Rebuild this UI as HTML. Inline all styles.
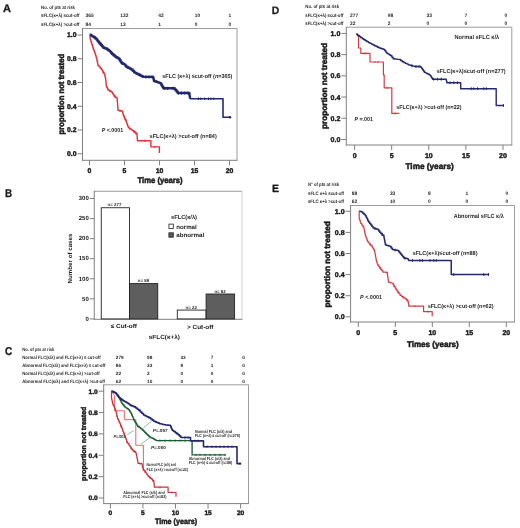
<!DOCTYPE html>
<html><head><meta charset="utf-8"><style>
html,body{margin:0;padding:0;background:#fff;}
svg{display:block;will-change:transform;text-rendering:geometricPrecision;font-family:"Liberation Sans",sans-serif;}
</style></head><body>
<svg width="520" height="528" viewBox="0 0 520 528">
<rect x="0" y="0" width="520" height="528" fill="#fff"/>
<text x="3.10" y="12.28" textLength="8.00" lengthAdjust="spacingAndGlyphs" style="font-size:10.8px;font-weight:bold;fill:#1a1a1a;stroke:#1a1a1a;stroke-width:0.3px;stroke-linejoin:round">A</text>
<text x="41.00" y="9.21" textLength="34.00" lengthAdjust="spacingAndGlyphs" style="font-size:4.9px;font-weight:bold;fill:#2a2a2a">No. of pts at risk</text>
<text x="41.00" y="17.21" textLength="38.50" lengthAdjust="spacingAndGlyphs" style="font-size:4.9px;font-weight:bold;fill:#2a2a2a">sFLC(κ+λ) ≤cut-off</text>
<text x="41.00" y="25.91" textLength="38.50" lengthAdjust="spacingAndGlyphs" style="font-size:4.9px;font-weight:bold;fill:#2a2a2a">sFLC(κ+λ) &gt;cut-off</text>
<text x="85.60" y="17.21" text-anchor="start" style="font-size:4.9px;font-weight:bold;fill:#2a2a2a">365</text>
<text x="120.20" y="17.21" text-anchor="start" style="font-size:4.9px;font-weight:bold;fill:#2a2a2a">132</text>
<text x="158.30" y="17.21" text-anchor="start" style="font-size:4.9px;font-weight:bold;fill:#2a2a2a">42</text>
<text x="194.80" y="17.21" text-anchor="start" style="font-size:4.9px;font-weight:bold;fill:#2a2a2a">10</text>
<text x="228.50" y="17.21" text-anchor="start" style="font-size:4.9px;font-weight:bold;fill:#2a2a2a">1</text>
<text x="85.60" y="25.91" text-anchor="start" style="font-size:4.9px;font-weight:bold;fill:#2a2a2a">84</text>
<text x="120.20" y="25.91" text-anchor="start" style="font-size:4.9px;font-weight:bold;fill:#2a2a2a">13</text>
<text x="158.30" y="25.91" text-anchor="start" style="font-size:4.9px;font-weight:bold;fill:#2a2a2a">1</text>
<text x="194.80" y="25.91" text-anchor="start" style="font-size:4.9px;font-weight:bold;fill:#2a2a2a">0</text>
<text x="228.50" y="25.91" text-anchor="start" style="font-size:4.9px;font-weight:bold;fill:#2a2a2a">0</text>
<line x1="82.50" y1="28.50" x2="237.00" y2="28.50" stroke="#9c9c9c" stroke-width="1"/>
<line x1="237.00" y1="28.50" x2="237.00" y2="160.30" stroke="#9c9c9c" stroke-width="1"/>
<line x1="82.00" y1="160.30" x2="237.50" y2="160.30" stroke="#808080" stroke-width="1"/>
<line x1="82.50" y1="28.00" x2="82.50" y2="160.80" stroke="#808080" stroke-width="1"/>
<line x1="77.50" y1="153.75" x2="82.50" y2="153.75" stroke="#808080" stroke-width="1"/>
<text x="76.50" y="156.20" text-anchor="end" style="font-size:6.8px;font-weight:bold;fill:#1a1a1a;stroke:#1a1a1a;stroke-width:0.41px;stroke-linejoin:round">0.0</text>
<line x1="77.50" y1="130.00" x2="82.50" y2="130.00" stroke="#808080" stroke-width="1"/>
<text x="76.50" y="132.45" text-anchor="end" style="font-size:6.8px;font-weight:bold;fill:#1a1a1a;stroke:#1a1a1a;stroke-width:0.41px;stroke-linejoin:round">0.2</text>
<line x1="77.50" y1="106.25" x2="82.50" y2="106.25" stroke="#808080" stroke-width="1"/>
<text x="76.50" y="108.70" text-anchor="end" style="font-size:6.8px;font-weight:bold;fill:#1a1a1a;stroke:#1a1a1a;stroke-width:0.41px;stroke-linejoin:round">0.4</text>
<line x1="77.50" y1="82.50" x2="82.50" y2="82.50" stroke="#808080" stroke-width="1"/>
<text x="76.50" y="84.95" text-anchor="end" style="font-size:6.8px;font-weight:bold;fill:#1a1a1a;stroke:#1a1a1a;stroke-width:0.41px;stroke-linejoin:round">0.6</text>
<line x1="77.50" y1="58.75" x2="82.50" y2="58.75" stroke="#808080" stroke-width="1"/>
<text x="76.50" y="61.20" text-anchor="end" style="font-size:6.8px;font-weight:bold;fill:#1a1a1a;stroke:#1a1a1a;stroke-width:0.41px;stroke-linejoin:round">0.8</text>
<line x1="77.50" y1="35.00" x2="82.50" y2="35.00" stroke="#808080" stroke-width="1"/>
<text x="76.50" y="37.45" text-anchor="end" style="font-size:6.8px;font-weight:bold;fill:#1a1a1a;stroke:#1a1a1a;stroke-width:0.41px;stroke-linejoin:round">1.0</text>
<line x1="89.50" y1="160.30" x2="89.50" y2="165.30" stroke="#808080" stroke-width="1"/>
<text x="89.50" y="172.55" text-anchor="middle" style="font-size:6.8px;font-weight:bold;fill:#1a1a1a;stroke:#1a1a1a;stroke-width:0.41px;stroke-linejoin:round">0</text>
<line x1="124.50" y1="160.30" x2="124.50" y2="165.30" stroke="#808080" stroke-width="1"/>
<text x="124.50" y="172.55" text-anchor="middle" style="font-size:6.8px;font-weight:bold;fill:#1a1a1a;stroke:#1a1a1a;stroke-width:0.41px;stroke-linejoin:round">5</text>
<line x1="159.50" y1="160.30" x2="159.50" y2="165.30" stroke="#808080" stroke-width="1"/>
<text x="159.50" y="172.55" text-anchor="middle" style="font-size:6.8px;font-weight:bold;fill:#1a1a1a;stroke:#1a1a1a;stroke-width:0.41px;stroke-linejoin:round">10</text>
<line x1="194.50" y1="160.30" x2="194.50" y2="165.30" stroke="#808080" stroke-width="1"/>
<text x="194.50" y="172.55" text-anchor="middle" style="font-size:6.8px;font-weight:bold;fill:#1a1a1a;stroke:#1a1a1a;stroke-width:0.41px;stroke-linejoin:round">15</text>
<line x1="229.50" y1="160.30" x2="229.50" y2="165.30" stroke="#808080" stroke-width="1"/>
<text x="229.50" y="172.55" text-anchor="middle" style="font-size:6.8px;font-weight:bold;fill:#1a1a1a;stroke:#1a1a1a;stroke-width:0.41px;stroke-linejoin:round">20</text>
<text transform="translate(64.34,94.15) rotate(-90)" x="0" y="0" text-anchor="middle" textLength="80.50" lengthAdjust="spacingAndGlyphs" style="font-size:8.3px;font-weight:bold;fill:#1a1a1a;stroke:#1a1a1a;stroke-width:0.50px;stroke-linejoin:round">proportion not treated</text>
<text x="137.50" y="182.67" textLength="45.10" lengthAdjust="spacingAndGlyphs" style="font-size:8.2px;font-weight:bold;fill:#1a1a1a;stroke:#1a1a1a;stroke-width:0.49px;stroke-linejoin:round">Time (years)</text>
<polyline points="89.80,34.80 89.92,34.80 89.92,36.00 90.05,36.00 90.05,37.20 90.17,37.20 90.17,38.40 90.30,38.40 90.30,39.60 90.78,39.60 90.78,41.14 91.26,41.14 91.26,42.68 91.74,42.68 91.74,44.22 92.22,44.22 92.22,45.76 92.70,45.76 92.70,47.30 93.18,47.30 93.18,48.64 93.66,48.64 93.66,49.98 94.14,49.98 94.14,51.32 94.62,51.32 94.62,52.66 95.10,52.66 95.10,54.00 95.60,54.00 95.60,55.60 96.10,55.60 96.10,57.20 96.60,57.20 96.60,58.80 96.88,58.80 96.88,60.16 97.16,60.16 97.16,61.52 97.44,61.52 97.44,62.88 97.72,62.88 97.72,64.24 98.00,64.24 98.00,65.60 99.13,65.60 99.13,66.87 100.27,66.87 100.27,68.13 101.40,68.13 101.40,69.40 102.24,69.40 102.24,70.85 103.08,70.85 103.08,72.30 103.91,72.30 103.91,73.75 104.75,73.75 104.75,75.20 105.07,75.20 105.07,76.80 105.38,76.80 105.38,78.40 105.70,78.40 105.70,80.00 105.85,80.00 105.85,81.55 106.00,81.55 106.00,83.10 106.15,83.10 106.15,84.65 106.30,84.65 106.30,86.20 106.87,86.20 106.87,87.47 107.43,87.47 107.43,88.73 108.00,88.73 108.00,90.00 109.13,90.00 109.13,90.63 110.27,90.63 110.27,91.27 111.40,91.27 111.40,91.90 112.33,91.90 112.33,93.33 113.27,93.33 113.27,94.77 114.20,94.77 114.20,96.20 115.65,96.20 115.65,97.60 117.10,97.60 117.10,99.00 117.21,99.00 117.21,100.42 117.32,100.42 117.32,101.85 117.44,101.85 117.44,103.28 117.55,103.28 117.55,104.70 117.66,104.70 117.66,106.12 117.78,106.12 117.78,107.55 117.89,107.55 117.89,108.98 118.00,108.98 118.00,110.40 119.43,110.40 119.43,110.70 120.87,110.70 120.87,111.00 122.30,111.00 122.30,111.30 122.65,111.30 122.65,112.60 123.00,112.60 123.00,113.90 123.35,113.90 123.35,115.20 123.70,115.20 123.70,116.50 124.47,116.50 124.47,118.10 125.23,118.10 125.23,119.70 126.00,119.70 126.00,121.30 126.48,121.30 126.48,122.62 126.96,122.62 126.96,123.94 127.44,123.94 127.44,125.26 127.92,125.26 127.92,126.58 128.40,126.58 128.40,127.90 129.83,127.90 129.83,128.87 131.27,128.87 131.27,129.83 132.70,129.83 132.70,130.80 134.13,130.80 134.13,132.03 135.57,132.03 135.57,133.27 137.00,133.27 137.00,134.50 137.10,134.50 137.10,136.07 137.20,136.07 137.20,137.65 137.30,137.65 137.30,139.23 137.40,139.23 137.40,140.80 150.90,140.80 150.90,146.90 159.40,146.90 159.40,153.00" fill="none" stroke="#d8353d" stroke-width="1.4" stroke-linejoin="round" stroke-linecap="butt" />
<polyline points="89.80,34.80 91.10,34.80 91.10,35.60 92.40,35.60 92.40,36.40 93.70,36.40 93.70,37.20 95.15,37.20 95.15,38.40 96.60,38.40 96.60,39.60 97.57,39.60 97.57,40.90 98.53,40.90 98.53,42.20 99.50,42.20 99.50,43.50 100.77,43.50 100.77,44.93 102.03,44.93 102.03,46.37 103.30,46.37 103.30,47.80 104.75,47.80 104.75,48.27 106.20,48.27 106.20,48.75 107.47,48.75 107.47,49.70 108.73,49.70 108.73,50.65 110.00,50.65 110.00,51.60 111.00,51.60 111.00,52.80 112.00,52.80 112.00,54.00 113.40,54.00 113.40,55.20 114.80,55.20 114.80,56.40 116.10,56.40 116.10,57.20 117.40,57.20 117.40,58.00 118.70,58.00 118.70,58.80 119.67,58.80 119.67,60.27 120.63,60.27 120.63,61.73 121.60,61.73 121.60,63.20 123.05,63.20 123.05,63.90 124.50,63.90 124.50,64.60 125.45,64.60 125.45,65.80 126.40,65.80 126.40,67.00 128.00,67.00 128.00,67.80 129.60,67.80 129.60,68.60 131.20,68.60 131.20,69.40 132.65,69.40 132.65,70.85 134.10,70.85 134.10,72.30 135.17,72.30 135.17,72.87 136.23,72.87 136.23,73.43 137.30,73.43 137.30,74.00 138.73,74.00 138.73,74.72 140.15,74.72 140.15,75.45 141.57,75.45 141.57,76.18 143.00,76.18 143.00,76.90 152.90,76.90 153.27,76.90 153.27,78.27 153.63,78.27 153.63,79.63 154.00,79.63 154.00,81.00 155.28,81.00 155.28,81.46 156.56,81.46 156.56,81.92 157.84,81.92 157.84,82.38 159.12,82.38 159.12,82.84 160.40,82.84 160.40,83.30 161.12,83.30 161.12,84.55 161.85,84.55 161.85,85.80 162.58,85.80 162.58,87.05 163.30,87.05 163.30,88.30 174.00,88.30 174.70,88.30 174.70,89.15 175.40,89.15 175.40,90.00 176.55,90.00 176.55,91.50 177.70,91.50 177.70,93.00 189.20,93.00 189.40,93.00 189.40,94.45 189.60,94.45 189.60,95.90 189.80,95.90 189.80,97.35 190.00,97.35 190.00,98.80" fill="none" stroke="#23296b" stroke-width="2.4" stroke-linejoin="round" stroke-linecap="butt" />
<polyline points="190.00,98.80 223.00,98.80 223.00,117.20 230.00,117.20" fill="none" stroke="#23296b" stroke-width="1.6" stroke-linejoin="round" stroke-linecap="butt" />
<circle cx="230" cy="117.2" r="1.3" fill="#23296b"/>
<line x1="146.00" y1="75.30" x2="146.00" y2="78.50" stroke="#23296b" stroke-width="1.1"/>
<line x1="149.00" y1="75.30" x2="149.00" y2="78.50" stroke="#23296b" stroke-width="1.1"/>
<line x1="152.00" y1="75.30" x2="152.00" y2="78.50" stroke="#23296b" stroke-width="1.1"/>
<line x1="164.60" y1="86.70" x2="164.60" y2="89.90" stroke="#23296b" stroke-width="1.1"/>
<line x1="167.70" y1="86.70" x2="167.70" y2="89.90" stroke="#23296b" stroke-width="1.1"/>
<line x1="173.00" y1="86.70" x2="173.00" y2="89.90" stroke="#23296b" stroke-width="1.1"/>
<line x1="178.50" y1="91.40" x2="178.50" y2="94.60" stroke="#23296b" stroke-width="1.1"/>
<line x1="181.50" y1="91.40" x2="181.50" y2="94.60" stroke="#23296b" stroke-width="1.1"/>
<line x1="184.60" y1="91.40" x2="184.60" y2="94.60" stroke="#23296b" stroke-width="1.1"/>
<line x1="187.70" y1="91.40" x2="187.70" y2="94.60" stroke="#23296b" stroke-width="1.1"/>
<line x1="198.50" y1="97.50" x2="198.50" y2="100.10" stroke="#23296b" stroke-width="1.0"/>
<line x1="200.80" y1="97.50" x2="200.80" y2="100.10" stroke="#23296b" stroke-width="1.0"/>
<line x1="204.60" y1="97.50" x2="204.60" y2="100.10" stroke="#23296b" stroke-width="1.0"/>
<line x1="208.50" y1="97.50" x2="208.50" y2="100.10" stroke="#23296b" stroke-width="1.0"/>
<line x1="210.80" y1="97.50" x2="210.80" y2="100.10" stroke="#23296b" stroke-width="1.0"/>
<line x1="213.80" y1="97.50" x2="213.80" y2="100.10" stroke="#23296b" stroke-width="1.0"/>
<line x1="103.00" y1="70.87" x2="103.00" y2="73.47" stroke="#d8353d" stroke-width="0.9"/>
<line x1="110.00" y1="89.82" x2="110.00" y2="92.42" stroke="#d8353d" stroke-width="0.9"/>
<line x1="115.00" y1="95.67" x2="115.00" y2="98.27" stroke="#d8353d" stroke-width="0.9"/>
<line x1="120.00" y1="109.52" x2="120.00" y2="112.12" stroke="#d8353d" stroke-width="0.9"/>
<line x1="125.00" y1="117.91" x2="125.00" y2="120.51" stroke="#d8353d" stroke-width="0.9"/>
<line x1="130.00" y1="127.68" x2="130.00" y2="130.28" stroke="#d8353d" stroke-width="0.9"/>
<line x1="134.00" y1="130.62" x2="134.00" y2="133.22" stroke="#d8353d" stroke-width="0.9"/>
<line x1="136.00" y1="132.34" x2="136.00" y2="134.94" stroke="#d8353d" stroke-width="0.9"/>
<line x1="145.00" y1="139.50" x2="145.00" y2="142.10" stroke="#d8353d" stroke-width="0.9"/>
<line x1="155.00" y1="145.60" x2="155.00" y2="148.20" stroke="#d8353d" stroke-width="0.9"/>
<text x="162.30" y="78.20" textLength="70.00" lengthAdjust="spacingAndGlyphs" style="font-size:5.7px;font-weight:bold;fill:#2a2a2a">sFLC (κ+λ) ≤cut-off (<tspan font-style='italic'>n</tspan>=365)</text>
<text x="101.70" y="132.00" textLength="21.50" lengthAdjust="spacingAndGlyphs" style="font-size:5.7px;font-weight:bold;fill:#2a2a2a"><tspan font-style='italic'>P</tspan> &lt;.0001</text>
<text x="149.60" y="138.00" textLength="67.20" lengthAdjust="spacingAndGlyphs" style="font-size:5.7px;font-weight:bold;fill:#2a2a2a">sFLC(κ+λ) &gt;cut-off (n=84)</text>
<text x="5.10" y="197.39" textLength="7.10" lengthAdjust="spacingAndGlyphs" style="font-size:11.4px;font-weight:bold;fill:#1a1a1a;stroke:#1a1a1a;stroke-width:0.3px;stroke-linejoin:round">B</text>
<line x1="94.25" y1="191.25" x2="242.00" y2="191.25" stroke="#9a9a9a" stroke-width="1"/>
<line x1="242.00" y1="191.25" x2="242.00" y2="319.30" stroke="#d4d4d4" stroke-width="1"/>
<line x1="93.75" y1="319.30" x2="242.50" y2="319.30" stroke="#808080" stroke-width="1"/>
<line x1="94.25" y1="190.75" x2="94.25" y2="319.80" stroke="#808080" stroke-width="1"/>
<line x1="89.75" y1="318.90" x2="94.25" y2="318.90" stroke="#808080" stroke-width="1"/>
<text x="88.75" y="320.66" text-anchor="end" style="font-size:5.99px;font-weight:bold;fill:#1a1a1a">0</text>
<line x1="89.75" y1="298.83" x2="94.25" y2="298.83" stroke="#808080" stroke-width="1"/>
<text x="88.75" y="300.59" text-anchor="end" style="font-size:5.99px;font-weight:bold;fill:#1a1a1a">50</text>
<line x1="89.75" y1="278.77" x2="94.25" y2="278.77" stroke="#808080" stroke-width="1"/>
<text x="88.75" y="280.53" text-anchor="end" style="font-size:5.99px;font-weight:bold;fill:#1a1a1a">100</text>
<line x1="89.75" y1="258.70" x2="94.25" y2="258.70" stroke="#808080" stroke-width="1"/>
<text x="88.75" y="260.46" text-anchor="end" style="font-size:5.99px;font-weight:bold;fill:#1a1a1a">150</text>
<line x1="89.75" y1="238.64" x2="94.25" y2="238.64" stroke="#808080" stroke-width="1"/>
<text x="88.75" y="240.40" text-anchor="end" style="font-size:5.99px;font-weight:bold;fill:#1a1a1a">200</text>
<line x1="89.75" y1="218.57" x2="94.25" y2="218.57" stroke="#808080" stroke-width="1"/>
<text x="88.75" y="220.33" text-anchor="end" style="font-size:5.99px;font-weight:bold;fill:#1a1a1a">250</text>
<line x1="89.75" y1="198.51" x2="94.25" y2="198.51" stroke="#808080" stroke-width="1"/>
<text x="88.75" y="200.27" text-anchor="end" style="font-size:5.99px;font-weight:bold;fill:#1a1a1a">300</text>
<text transform="translate(71.92,258.50) rotate(-90)" x="0" y="0" text-anchor="middle" textLength="49.80" lengthAdjust="spacingAndGlyphs" style="font-size:5.99px;font-weight:bold;fill:#1a1a1a">Number of cases</text>
<rect x="101.25" y="207.74" width="28.25" height="111.16" fill="#fff" stroke="#222" stroke-width="0.9"/>
<rect x="129.50" y="283.59" width="28.25" height="35.31" fill="#5e5e5e" stroke="#222" stroke-width="0.9"/>
<rect x="177.30" y="310.07" width="28.80" height="8.83" fill="#fff" stroke="#222" stroke-width="0.9"/>
<rect x="206.10" y="294.02" width="28.50" height="24.88" fill="#5e5e5e" stroke="#222" stroke-width="0.9"/>
<text x="114.50" y="205.58" text-anchor="middle" style="font-size:4.4px;font-weight:bold;fill:#2a2a2a">n= 277</text>
<text x="143.40" y="281.98" text-anchor="middle" style="font-size:4.4px;font-weight:bold;fill:#2a2a2a">n= 88</text>
<text x="191.20" y="308.98" text-anchor="middle" style="font-size:4.4px;font-weight:bold;fill:#2a2a2a">n= 22</text>
<text x="220.10" y="292.78" text-anchor="middle" style="font-size:4.4px;font-weight:bold;fill:#2a2a2a">n= 62</text>
<text x="171.00" y="218.78" textLength="26.00" lengthAdjust="spacingAndGlyphs" style="font-size:5.8px;font-weight:bold;fill:#1a1a1a">sFLC(κ/λ)</text>
<rect x="168.90" y="224.10" width="4.40" height="4.40" fill="#fff" stroke="#222" stroke-width="0.8"/>
<text x="176.25" y="228.70" textLength="20.50" lengthAdjust="spacingAndGlyphs" style="font-size:5.99px;font-weight:bold;fill:#1a1a1a">normal</text>
<rect x="168.90" y="232.80" width="4.40" height="4.40" fill="#5a5a5a" stroke="#222" stroke-width="0.8"/>
<text x="176.25" y="237.30" textLength="28.00" lengthAdjust="spacingAndGlyphs" style="font-size:5.99px;font-weight:bold;fill:#1a1a1a">abnormal</text>
<text x="110.75" y="328.35" textLength="26.25" lengthAdjust="spacingAndGlyphs" style="font-size:5.99px;font-weight:bold;fill:#1a1a1a">≤ Cut-off</text>
<text x="187.00" y="328.80" textLength="26.50" lengthAdjust="spacingAndGlyphs" style="font-size:5.99px;font-weight:bold;fill:#1a1a1a">&gt; Cut-off</text>
<text x="148.75" y="339.10" textLength="31.25" lengthAdjust="spacingAndGlyphs" style="font-size:5.99px;font-weight:bold;fill:#1a1a1a">sFLC(κ+λ)</text>
<text x="5.10" y="355.39" textLength="7.20" lengthAdjust="spacingAndGlyphs" style="font-size:11.4px;font-weight:bold;fill:#1a1a1a;stroke:#1a1a1a;stroke-width:0.3px;stroke-linejoin:round">C</text>
<text x="22.30" y="351.34" textLength="32.10" lengthAdjust="spacingAndGlyphs" style="font-size:4.7px;font-weight:bold;fill:#2a2a2a">No. of pts at risk</text>
<text x="22.30" y="359.04" textLength="78.30" lengthAdjust="spacingAndGlyphs" style="font-size:4.7px;font-weight:bold;fill:#2a2a2a">Normal FLC(κ/λ) and FLC(κ+λ) ≤ cut-off</text>
<text x="115.80" y="359.04" text-anchor="start" style="font-size:4.7px;font-weight:bold;fill:#2a2a2a">279</text>
<text x="147.10" y="359.04" text-anchor="start" style="font-size:4.7px;font-weight:bold;fill:#2a2a2a">98</text>
<text x="180.40" y="359.04" text-anchor="start" style="font-size:4.7px;font-weight:bold;fill:#2a2a2a">33</text>
<text x="210.80" y="359.04" text-anchor="start" style="font-size:4.7px;font-weight:bold;fill:#2a2a2a">7</text>
<text x="242.30" y="359.04" text-anchor="start" style="font-size:4.7px;font-weight:bold;fill:#2a2a2a">0</text>
<text x="22.30" y="367.25" textLength="83.10" lengthAdjust="spacingAndGlyphs" style="font-size:4.7px;font-weight:bold;fill:#2a2a2a">Abnormal FLC(κ/λ) and FLC(κ+λ) ≤ cut-off</text>
<text x="115.80" y="367.25" text-anchor="start" style="font-size:4.7px;font-weight:bold;fill:#2a2a2a">86</text>
<text x="147.10" y="367.25" text-anchor="start" style="font-size:4.7px;font-weight:bold;fill:#2a2a2a">33</text>
<text x="180.40" y="367.25" text-anchor="start" style="font-size:4.7px;font-weight:bold;fill:#2a2a2a">8</text>
<text x="210.80" y="367.25" text-anchor="start" style="font-size:4.7px;font-weight:bold;fill:#2a2a2a">1</text>
<text x="242.30" y="367.25" text-anchor="start" style="font-size:4.7px;font-weight:bold;fill:#2a2a2a">0</text>
<text x="22.30" y="374.84" textLength="77.30" lengthAdjust="spacingAndGlyphs" style="font-size:4.7px;font-weight:bold;fill:#2a2a2a">Normal FLC(κ/λ) and FLC(κ+λ) &gt;cut-off</text>
<text x="115.80" y="374.84" text-anchor="start" style="font-size:4.7px;font-weight:bold;fill:#2a2a2a">22</text>
<text x="147.10" y="374.84" text-anchor="start" style="font-size:4.7px;font-weight:bold;fill:#2a2a2a">2</text>
<text x="180.40" y="374.84" text-anchor="start" style="font-size:4.7px;font-weight:bold;fill:#2a2a2a">0</text>
<text x="210.80" y="374.84" text-anchor="start" style="font-size:4.7px;font-weight:bold;fill:#2a2a2a">0</text>
<text x="242.30" y="374.84" text-anchor="start" style="font-size:4.7px;font-weight:bold;fill:#2a2a2a">0</text>
<text x="22.30" y="382.54" textLength="82.70" lengthAdjust="spacingAndGlyphs" style="font-size:4.7px;font-weight:bold;fill:#2a2a2a">Abnormal FLC(κ/λ) and FLC(κ+λ) &gt;cut-off</text>
<text x="115.80" y="382.54" text-anchor="start" style="font-size:4.7px;font-weight:bold;fill:#2a2a2a">62</text>
<text x="147.10" y="382.54" text-anchor="start" style="font-size:4.7px;font-weight:bold;fill:#2a2a2a">10</text>
<text x="180.40" y="382.54" text-anchor="start" style="font-size:4.7px;font-weight:bold;fill:#2a2a2a">0</text>
<text x="210.80" y="382.54" text-anchor="start" style="font-size:4.7px;font-weight:bold;fill:#2a2a2a">0</text>
<text x="242.30" y="382.54" text-anchor="start" style="font-size:4.7px;font-weight:bold;fill:#2a2a2a">0</text>
<line x1="103.70" y1="384.80" x2="248.50" y2="384.80" stroke="#9c9c9c" stroke-width="1"/>
<line x1="248.50" y1="384.80" x2="248.50" y2="503.60" stroke="#9c9c9c" stroke-width="1"/>
<line x1="103.20" y1="503.60" x2="249.00" y2="503.60" stroke="#808080" stroke-width="1"/>
<line x1="103.70" y1="384.30" x2="103.70" y2="504.10" stroke="#808080" stroke-width="1"/>
<line x1="98.70" y1="498.00" x2="103.70" y2="498.00" stroke="#808080" stroke-width="1"/>
<text x="97.70" y="500.38" text-anchor="end" style="font-size:6.6px;font-weight:bold;fill:#1a1a1a;stroke:#1a1a1a;stroke-width:0.40px;stroke-linejoin:round">0.0</text>
<line x1="98.70" y1="476.64" x2="103.70" y2="476.64" stroke="#808080" stroke-width="1"/>
<text x="97.70" y="479.02" text-anchor="end" style="font-size:6.6px;font-weight:bold;fill:#1a1a1a;stroke:#1a1a1a;stroke-width:0.40px;stroke-linejoin:round">0.2</text>
<line x1="98.70" y1="455.28" x2="103.70" y2="455.28" stroke="#808080" stroke-width="1"/>
<text x="97.70" y="457.66" text-anchor="end" style="font-size:6.6px;font-weight:bold;fill:#1a1a1a;stroke:#1a1a1a;stroke-width:0.40px;stroke-linejoin:round">0.4</text>
<line x1="98.70" y1="433.92" x2="103.70" y2="433.92" stroke="#808080" stroke-width="1"/>
<text x="97.70" y="436.30" text-anchor="end" style="font-size:6.6px;font-weight:bold;fill:#1a1a1a;stroke:#1a1a1a;stroke-width:0.40px;stroke-linejoin:round">0.6</text>
<line x1="98.70" y1="412.56" x2="103.70" y2="412.56" stroke="#808080" stroke-width="1"/>
<text x="97.70" y="414.94" text-anchor="end" style="font-size:6.6px;font-weight:bold;fill:#1a1a1a;stroke:#1a1a1a;stroke-width:0.40px;stroke-linejoin:round">0.8</text>
<line x1="98.70" y1="391.20" x2="103.70" y2="391.20" stroke="#808080" stroke-width="1"/>
<text x="97.70" y="393.58" text-anchor="end" style="font-size:6.6px;font-weight:bold;fill:#1a1a1a;stroke:#1a1a1a;stroke-width:0.40px;stroke-linejoin:round">1.0</text>
<line x1="110.40" y1="503.60" x2="110.40" y2="508.60" stroke="#808080" stroke-width="1"/>
<text x="110.40" y="515.18" text-anchor="middle" style="font-size:6.6px;font-weight:bold;fill:#1a1a1a;stroke:#1a1a1a;stroke-width:0.40px;stroke-linejoin:round">0</text>
<line x1="142.95" y1="503.60" x2="142.95" y2="508.60" stroke="#808080" stroke-width="1"/>
<text x="142.95" y="515.18" text-anchor="middle" style="font-size:6.6px;font-weight:bold;fill:#1a1a1a;stroke:#1a1a1a;stroke-width:0.40px;stroke-linejoin:round">5</text>
<line x1="175.50" y1="503.60" x2="175.50" y2="508.60" stroke="#808080" stroke-width="1"/>
<text x="175.50" y="515.18" text-anchor="middle" style="font-size:6.6px;font-weight:bold;fill:#1a1a1a;stroke:#1a1a1a;stroke-width:0.40px;stroke-linejoin:round">10</text>
<line x1="208.05" y1="503.60" x2="208.05" y2="508.60" stroke="#808080" stroke-width="1"/>
<text x="208.05" y="515.18" text-anchor="middle" style="font-size:6.6px;font-weight:bold;fill:#1a1a1a;stroke:#1a1a1a;stroke-width:0.40px;stroke-linejoin:round">15</text>
<line x1="240.60" y1="503.60" x2="240.60" y2="508.60" stroke="#808080" stroke-width="1"/>
<text x="240.60" y="515.18" text-anchor="middle" style="font-size:6.6px;font-weight:bold;fill:#1a1a1a;stroke:#1a1a1a;stroke-width:0.40px;stroke-linejoin:round">20</text>
<text transform="translate(85.72,443.75) rotate(-90)" x="0" y="0" text-anchor="middle" textLength="74.30" lengthAdjust="spacingAndGlyphs" style="font-size:7.1px;font-weight:bold;fill:#1a1a1a;stroke:#1a1a1a;stroke-width:0.43px;stroke-linejoin:round">proportion not treated</text>
<text x="155.00" y="523.97" textLength="42.10" lengthAdjust="spacingAndGlyphs" style="font-size:7.9px;font-weight:bold;fill:#1a1a1a;stroke:#1a1a1a;stroke-width:0.47px;stroke-linejoin:round">Time (years)</text>
<line x1="127.30" y1="434.60" x2="133.70" y2="430.60" stroke="#5f9a9e" stroke-width="0.7"/>
<line x1="143.50" y1="427.70" x2="151.50" y2="421.30" stroke="#5f9a9e" stroke-width="0.7"/>
<line x1="141.20" y1="443.80" x2="150.40" y2="437.50" stroke="#5f9a9e" stroke-width="0.7"/>
<polyline points="111.50,391.20 114.40,395.50 114.40,410.80 124.30,410.80 124.30,419.70 135.80,419.70 135.80,445.30 143.40,445.30 143.40,471.00" fill="none" stroke="#e4646b" stroke-width="1.0" stroke-linejoin="round" stroke-linecap="butt" />
<polyline points="111.50,391.20 111.50,398.40 111.80,398.40 111.80,399.85 112.10,399.85 112.10,401.30 112.40,401.30 112.40,402.75 112.70,402.75 112.70,404.20 113.30,404.20 113.30,405.30 113.90,405.30 113.90,406.40 114.50,406.40 114.50,407.50 115.00,407.50 115.00,408.85 115.50,408.85 115.50,410.20 115.88,410.20 115.88,411.73 116.27,411.73 116.27,413.27 116.65,413.27 116.65,414.80 117.03,414.80 117.03,416.33 117.42,416.33 117.42,417.87 117.80,417.87 117.80,419.40 118.53,419.40 118.53,420.93 119.27,420.93 119.27,422.47 120.00,422.47 120.00,424.00 120.62,424.00 120.62,425.55 121.25,425.55 121.25,427.10 121.88,427.10 121.88,428.65 122.50,428.65 122.50,430.20 123.00,430.20 123.00,431.40 123.50,431.40 123.50,432.60 124.00,432.60 124.00,433.80 124.50,433.80 124.50,435.00 125.02,435.00 125.02,436.50 125.54,436.50 125.54,438.00 126.06,438.00 126.06,439.50 126.58,439.50 126.58,441.00 127.10,441.00 127.10,442.50 128.07,442.50 128.07,443.93 129.03,443.93 129.03,445.37 130.00,445.37 130.00,446.80 130.93,446.80 130.93,448.13 131.87,448.13 131.87,449.47 132.80,449.47 132.80,450.80 134.25,450.80 134.25,451.65 135.70,451.65 135.70,452.50 136.07,452.50 136.07,454.00 136.43,454.00 136.43,455.50 136.80,455.50 136.80,457.00 137.10,457.00 137.10,458.57 137.40,458.57 137.40,460.15 137.70,460.15 137.70,461.73 138.00,461.73 138.00,463.30 139.30,463.30 139.30,463.50 140.60,463.50 140.60,463.70 141.90,463.70 141.90,463.90 142.20,463.90 142.20,465.30 142.50,465.30 142.50,466.70 142.80,466.70 142.80,468.10 143.10,468.10 143.10,469.50 144.03,469.50 144.03,470.67 144.97,470.67 144.97,471.83 145.90,471.83 145.90,473.00 146.67,473.00 146.67,474.13 147.43,474.13 147.43,475.27 148.20,475.27 148.20,476.40 149.33,476.40 149.33,477.33 150.47,477.33 150.47,478.27 151.60,478.27 151.60,479.20 152.75,479.20 152.75,480.60 153.90,480.60 153.90,482.00 154.03,482.00 154.03,483.30 154.15,483.30 154.15,484.60 154.28,484.60 154.28,485.90 154.40,485.90 154.40,487.20 168.10,487.20 168.10,492.50 176.00,492.50 176.00,496.80" fill="none" stroke="#c8303a" stroke-width="1.2" stroke-linejoin="round" stroke-linecap="butt" />
<line x1="117.00" y1="415.10" x2="117.00" y2="417.30" stroke="#c8303a" stroke-width="0.8"/>
<line x1="121.00" y1="425.38" x2="121.00" y2="427.58" stroke="#c8303a" stroke-width="0.8"/>
<line x1="124.00" y1="432.70" x2="124.00" y2="434.90" stroke="#c8303a" stroke-width="0.8"/>
<line x1="127.00" y1="441.11" x2="127.00" y2="443.31" stroke="#c8303a" stroke-width="0.8"/>
<line x1="131.00" y1="447.13" x2="131.00" y2="449.33" stroke="#c8303a" stroke-width="0.8"/>
<line x1="134.00" y1="450.40" x2="134.00" y2="452.60" stroke="#c8303a" stroke-width="0.8"/>
<line x1="140.00" y1="462.51" x2="140.00" y2="464.71" stroke="#c8303a" stroke-width="0.8"/>
<line x1="145.00" y1="470.77" x2="145.00" y2="472.98" stroke="#c8303a" stroke-width="0.8"/>
<line x1="150.00" y1="476.78" x2="150.00" y2="478.98" stroke="#c8303a" stroke-width="0.8"/>
<line x1="153.00" y1="479.80" x2="153.00" y2="482.00" stroke="#c8303a" stroke-width="0.8"/>
<line x1="160.00" y1="486.10" x2="160.00" y2="488.30" stroke="#c8303a" stroke-width="0.8"/>
<line x1="172.00" y1="491.40" x2="172.00" y2="493.60" stroke="#c8303a" stroke-width="0.8"/>
<polyline points="111.50,391.20 112.83,391.20 112.83,391.87 114.17,391.87 114.17,392.53 115.50,392.53 115.50,393.20 116.53,393.20 116.53,394.65 117.55,394.65 117.55,396.10 118.57,396.10 118.57,397.55 119.60,397.55 119.60,399.00 120.37,399.00 120.37,400.53 121.13,400.53 121.13,402.07 121.90,402.07 121.90,403.60 122.87,403.60 122.87,404.77 123.83,404.77 123.83,405.93 124.80,405.93 124.80,407.10 125.93,407.10 125.93,407.87 127.07,407.87 127.07,408.63 128.20,408.63 128.20,409.40 129.17,409.40 129.17,410.73 130.13,410.73 130.13,412.07 131.10,412.07 131.10,413.40 131.72,413.40 131.72,414.88 132.34,414.88 132.34,416.36 132.96,416.36 132.96,417.84 133.58,417.84 133.58,419.32 134.20,419.32 134.20,420.80 135.07,420.80 135.07,422.23 135.95,422.23 135.95,423.65 136.82,423.65 136.82,425.07 137.70,425.07 137.70,426.50 139.23,426.50 139.23,427.67 140.77,427.67 140.77,428.83 142.30,428.83 142.30,430.00 143.47,430.00 143.47,431.17 144.63,431.17 144.63,432.33 145.80,432.33 145.80,433.50 146.93,433.50 146.93,434.63 148.07,434.63 148.07,435.77 149.20,435.77 149.20,436.90 150.73,436.90 150.73,437.67 152.27,437.67 152.27,438.43 153.80,438.43 153.80,439.20 155.00,439.20 155.00,439.90 156.20,439.90 156.20,440.60 192.10,440.60 192.10,454.90 225.80,454.90" fill="none" stroke="#1b5e34" stroke-width="1.35" stroke-linejoin="round" stroke-linecap="butt" />
<line x1="160.00" y1="439.50" x2="160.00" y2="441.70" stroke="#1b5e34" stroke-width="0.9"/>
<line x1="165.00" y1="439.50" x2="165.00" y2="441.70" stroke="#1b5e34" stroke-width="0.9"/>
<line x1="170.00" y1="439.50" x2="170.00" y2="441.70" stroke="#1b5e34" stroke-width="0.9"/>
<line x1="175.00" y1="439.50" x2="175.00" y2="441.70" stroke="#1b5e34" stroke-width="0.9"/>
<line x1="180.00" y1="439.50" x2="180.00" y2="441.70" stroke="#1b5e34" stroke-width="0.9"/>
<line x1="185.00" y1="439.50" x2="185.00" y2="441.70" stroke="#1b5e34" stroke-width="0.9"/>
<line x1="196.00" y1="453.80" x2="196.00" y2="456.00" stroke="#1b5e34" stroke-width="0.9"/>
<line x1="200.00" y1="453.80" x2="200.00" y2="456.00" stroke="#1b5e34" stroke-width="0.9"/>
<line x1="205.00" y1="453.80" x2="205.00" y2="456.00" stroke="#1b5e34" stroke-width="0.9"/>
<line x1="210.00" y1="453.80" x2="210.00" y2="456.00" stroke="#1b5e34" stroke-width="0.9"/>
<line x1="215.00" y1="453.80" x2="215.00" y2="456.00" stroke="#1b5e34" stroke-width="0.9"/>
<line x1="220.00" y1="453.80" x2="220.00" y2="456.00" stroke="#1b5e34" stroke-width="0.9"/>
<line x1="225.00" y1="453.80" x2="225.00" y2="456.00" stroke="#1b5e34" stroke-width="0.9"/>
<polyline points="111.50,391.20 112.83,391.20 112.83,391.87 114.17,391.87 114.17,392.53 115.50,392.53 115.50,393.20 116.67,393.20 116.67,394.73 117.83,394.73 117.83,396.27 119.00,396.27 119.00,397.80 120.33,397.80 120.33,398.77 121.67,398.77 121.67,399.73 123.00,399.73 123.00,400.70 124.37,400.70 124.37,401.47 125.73,401.47 125.73,402.23 127.10,402.23 127.10,403.00 128.23,403.00 128.23,403.80 129.37,403.80 129.37,404.60 130.50,404.60 130.50,405.40 131.73,405.40 131.73,405.90 132.97,405.90 132.97,406.40 134.20,406.40 134.20,406.90 135.73,406.90 135.73,408.07 137.27,408.07 137.27,409.23 138.80,409.23 138.80,410.40 140.37,410.40 140.37,411.93 141.93,411.93 141.93,413.47 143.50,413.47 143.50,415.00 144.93,415.00 144.93,415.73 146.35,415.73 146.35,416.45 147.77,416.45 147.77,417.17 149.20,417.17 149.20,417.90 150.73,417.90 150.73,419.03 152.27,419.03 152.27,420.17 153.80,420.17 153.80,421.30 155.25,421.30 155.25,421.90 156.70,421.90 156.70,422.50 158.15,422.50 158.15,423.10 159.60,423.10 159.60,423.70 161.13,423.70 161.13,424.07 162.67,424.07 162.67,424.43 164.20,424.43 164.20,424.80 165.65,424.80 165.65,424.95 167.10,424.95 167.10,425.10 168.55,425.10 168.55,425.25 170.00,425.25 170.00,425.40 170.60,425.40 170.60,426.67 171.20,426.67 171.20,427.95 171.80,427.95 171.80,429.23 172.40,429.23 172.40,430.50 173.80,430.50 173.80,431.55 175.20,431.55 175.20,432.60 176.60,432.60 176.60,433.65 178.00,433.65 178.00,434.70 179.45,434.70 179.45,436.10 180.90,436.10 180.90,437.50 190.50,437.50 190.50,440.90 203.50,440.90 203.50,446.70 237.00,446.70 237.00,463.60 241.20,463.60" fill="none" stroke="#23296b" stroke-width="1.6" stroke-linejoin="round" stroke-linecap="butt" />
<line x1="185.00" y1="436.30" x2="185.00" y2="438.70" stroke="#23296b" stroke-width="0.9"/>
<line x1="188.00" y1="436.30" x2="188.00" y2="438.70" stroke="#23296b" stroke-width="0.9"/>
<line x1="195.00" y1="439.70" x2="195.00" y2="442.10" stroke="#23296b" stroke-width="0.9"/>
<line x1="198.00" y1="439.70" x2="198.00" y2="442.10" stroke="#23296b" stroke-width="0.9"/>
<line x1="207.00" y1="445.50" x2="207.00" y2="447.90" stroke="#23296b" stroke-width="0.9"/>
<line x1="212.00" y1="445.50" x2="212.00" y2="447.90" stroke="#23296b" stroke-width="0.9"/>
<line x1="216.00" y1="445.50" x2="216.00" y2="447.90" stroke="#23296b" stroke-width="0.9"/>
<line x1="220.00" y1="445.50" x2="220.00" y2="447.90" stroke="#23296b" stroke-width="0.9"/>
<line x1="224.00" y1="445.50" x2="224.00" y2="447.90" stroke="#23296b" stroke-width="0.9"/>
<line x1="228.00" y1="445.50" x2="228.00" y2="447.90" stroke="#23296b" stroke-width="0.9"/>
<line x1="232.00" y1="445.50" x2="232.00" y2="447.90" stroke="#23296b" stroke-width="0.9"/>
<line x1="240.00" y1="462.40" x2="240.00" y2="464.80" stroke="#23296b" stroke-width="0.9"/>
<text x="113.50" y="437.84" textLength="12.10" lengthAdjust="spacingAndGlyphs" style="font-size:4.4px;font-weight:bold;fill:#2a2a2a"><tspan font-style='italic'>P</tspan>=.002</text>
<text x="152.70" y="431.74" textLength="15.00" lengthAdjust="spacingAndGlyphs" style="font-size:4.4px;font-weight:bold;fill:#2a2a2a"><tspan font-style='italic'>P</tspan>=.057</text>
<text x="151.00" y="449.04" textLength="14.80" lengthAdjust="spacingAndGlyphs" style="font-size:4.4px;font-weight:bold;fill:#2a2a2a"><tspan font-style='italic'>P</tspan>=.000</text>
<text x="195.00" y="433.44" textLength="37.00" lengthAdjust="spacingAndGlyphs" style="font-size:4.4px;font-weight:bold;fill:#2a2a2a">Normal FLC (κ/λ) and</text>
<text x="195.00" y="437.34" textLength="45.00" lengthAdjust="spacingAndGlyphs" style="font-size:4.4px;font-weight:bold;fill:#2a2a2a">FLC (κ+λ) ≤ cut-off (n=279)</text>
<text x="188.70" y="460.44" textLength="41.30" lengthAdjust="spacingAndGlyphs" style="font-size:4.4px;font-weight:bold;fill:#2a2a2a">Abnormal FLC (κ/λ) and</text>
<text x="188.70" y="464.34" textLength="43.40" lengthAdjust="spacingAndGlyphs" style="font-size:4.4px;font-weight:bold;fill:#2a2a2a">FLC (κ+λ) ≤ cut-off (n=86)</text>
<text x="146.50" y="465.94" textLength="29.50" lengthAdjust="spacingAndGlyphs" style="font-size:4.4px;font-weight:bold;fill:#2a2a2a">Normal FLC (κ/λ) and</text>
<text x="146.50" y="470.84" textLength="41.50" lengthAdjust="spacingAndGlyphs" style="font-size:4.4px;font-weight:bold;fill:#2a2a2a">FLC (κ+λ) &gt;cut-off (n=22)</text>
<text x="123.20" y="494.04" textLength="41.50" lengthAdjust="spacingAndGlyphs" style="font-size:4.4px;font-weight:bold;fill:#2a2a2a">Abnormal FLC (κ/λ) and</text>
<text x="123.20" y="498.34" textLength="43.20" lengthAdjust="spacingAndGlyphs" style="font-size:4.4px;font-weight:bold;fill:#2a2a2a">FLC (κ+λ) &gt;cut-off (n=62)</text>
<text x="271.70" y="13.64" textLength="7.50" lengthAdjust="spacingAndGlyphs" style="font-size:10.7px;font-weight:bold;fill:#1a1a1a;stroke:#1a1a1a;stroke-width:0.3px;stroke-linejoin:round">D</text>
<text x="305.30" y="7.62" textLength="33.80" lengthAdjust="spacingAndGlyphs" style="font-size:4.9px;font-weight:bold;fill:#2a2a2a">No. of pts at risk</text>
<text x="305.30" y="16.52" textLength="38.10" lengthAdjust="spacingAndGlyphs" style="font-size:4.9px;font-weight:bold;fill:#2a2a2a">sFLC(κ+λ) ≤cut-off</text>
<text x="305.30" y="24.61" textLength="38.10" lengthAdjust="spacingAndGlyphs" style="font-size:4.9px;font-weight:bold;fill:#2a2a2a">sFLC(κ+λ) &gt;cut-off</text>
<text x="350.10" y="16.52" text-anchor="start" style="font-size:4.9px;font-weight:bold;fill:#2a2a2a">277</text>
<text x="387.80" y="16.52" text-anchor="start" style="font-size:4.9px;font-weight:bold;fill:#2a2a2a">98</text>
<text x="426.50" y="16.52" text-anchor="start" style="font-size:4.9px;font-weight:bold;fill:#2a2a2a">33</text>
<text x="464.60" y="16.52" text-anchor="start" style="font-size:4.9px;font-weight:bold;fill:#2a2a2a">7</text>
<text x="504.60" y="16.52" text-anchor="start" style="font-size:4.9px;font-weight:bold;fill:#2a2a2a">0</text>
<text x="350.10" y="24.61" text-anchor="start" style="font-size:4.9px;font-weight:bold;fill:#2a2a2a">22</text>
<text x="387.80" y="24.61" text-anchor="start" style="font-size:4.9px;font-weight:bold;fill:#2a2a2a">2</text>
<text x="426.50" y="24.61" text-anchor="start" style="font-size:4.9px;font-weight:bold;fill:#2a2a2a">0</text>
<text x="464.60" y="24.61" text-anchor="start" style="font-size:4.9px;font-weight:bold;fill:#2a2a2a">0</text>
<text x="504.60" y="24.61" text-anchor="start" style="font-size:4.9px;font-weight:bold;fill:#2a2a2a">0</text>
<line x1="346.30" y1="27.20" x2="511.80" y2="27.20" stroke="#9c9c9c" stroke-width="1"/>
<line x1="511.80" y1="27.20" x2="511.80" y2="145.00" stroke="#9c9c9c" stroke-width="1"/>
<line x1="345.80" y1="145.00" x2="512.30" y2="145.00" stroke="#808080" stroke-width="1"/>
<line x1="346.30" y1="26.70" x2="346.30" y2="145.50" stroke="#808080" stroke-width="1"/>
<line x1="341.30" y1="139.50" x2="346.30" y2="139.50" stroke="#808080" stroke-width="1"/>
<text x="340.30" y="142.02" text-anchor="end" style="font-size:7.0px;font-weight:bold;fill:#1a1a1a;stroke:#1a1a1a;stroke-width:0.42px;stroke-linejoin:round">0.0</text>
<line x1="341.30" y1="118.28" x2="346.30" y2="118.28" stroke="#808080" stroke-width="1"/>
<text x="340.30" y="120.80" text-anchor="end" style="font-size:7.0px;font-weight:bold;fill:#1a1a1a;stroke:#1a1a1a;stroke-width:0.42px;stroke-linejoin:round">0.2</text>
<line x1="341.30" y1="97.06" x2="346.30" y2="97.06" stroke="#808080" stroke-width="1"/>
<text x="340.30" y="99.58" text-anchor="end" style="font-size:7.0px;font-weight:bold;fill:#1a1a1a;stroke:#1a1a1a;stroke-width:0.42px;stroke-linejoin:round">0.4</text>
<line x1="341.30" y1="75.84" x2="346.30" y2="75.84" stroke="#808080" stroke-width="1"/>
<text x="340.30" y="78.36" text-anchor="end" style="font-size:7.0px;font-weight:bold;fill:#1a1a1a;stroke:#1a1a1a;stroke-width:0.42px;stroke-linejoin:round">0.6</text>
<line x1="341.30" y1="54.62" x2="346.30" y2="54.62" stroke="#808080" stroke-width="1"/>
<text x="340.30" y="57.14" text-anchor="end" style="font-size:7.0px;font-weight:bold;fill:#1a1a1a;stroke:#1a1a1a;stroke-width:0.42px;stroke-linejoin:round">0.8</text>
<line x1="341.30" y1="33.40" x2="346.30" y2="33.40" stroke="#808080" stroke-width="1"/>
<text x="340.30" y="35.92" text-anchor="end" style="font-size:7.0px;font-weight:bold;fill:#1a1a1a;stroke:#1a1a1a;stroke-width:0.42px;stroke-linejoin:round">1.0</text>
<line x1="354.60" y1="145.00" x2="354.60" y2="150.00" stroke="#808080" stroke-width="1"/>
<text x="354.60" y="158.02" text-anchor="middle" style="font-size:7.0px;font-weight:bold;fill:#1a1a1a;stroke:#1a1a1a;stroke-width:0.42px;stroke-linejoin:round">0</text>
<line x1="391.70" y1="145.00" x2="391.70" y2="150.00" stroke="#808080" stroke-width="1"/>
<text x="391.70" y="158.02" text-anchor="middle" style="font-size:7.0px;font-weight:bold;fill:#1a1a1a;stroke:#1a1a1a;stroke-width:0.42px;stroke-linejoin:round">5</text>
<line x1="428.80" y1="145.00" x2="428.80" y2="150.00" stroke="#808080" stroke-width="1"/>
<text x="428.80" y="158.02" text-anchor="middle" style="font-size:7.0px;font-weight:bold;fill:#1a1a1a;stroke:#1a1a1a;stroke-width:0.42px;stroke-linejoin:round">10</text>
<line x1="465.90" y1="145.00" x2="465.90" y2="150.00" stroke="#808080" stroke-width="1"/>
<text x="465.90" y="158.02" text-anchor="middle" style="font-size:7.0px;font-weight:bold;fill:#1a1a1a;stroke:#1a1a1a;stroke-width:0.42px;stroke-linejoin:round">15</text>
<line x1="503.00" y1="145.00" x2="503.00" y2="150.00" stroke="#808080" stroke-width="1"/>
<text x="503.00" y="158.02" text-anchor="middle" style="font-size:7.0px;font-weight:bold;fill:#1a1a1a;stroke:#1a1a1a;stroke-width:0.42px;stroke-linejoin:round">20</text>
<text transform="translate(326.51,85.95) rotate(-90)" x="0" y="0" text-anchor="middle" textLength="86.10" lengthAdjust="spacingAndGlyphs" style="font-size:8.2px;font-weight:bold;fill:#1a1a1a;stroke:#1a1a1a;stroke-width:0.49px;stroke-linejoin:round">proportion not treated</text>
<text x="405.50" y="169.47" textLength="48.20" lengthAdjust="spacingAndGlyphs" style="font-size:8.2px;font-weight:bold;fill:#1a1a1a;stroke:#1a1a1a;stroke-width:0.49px;stroke-linejoin:round">Time (years)</text>
<polyline points="356.20,34.20 357.35,34.20 357.35,35.70 358.50,35.70 358.50,37.20 358.50,48.00 360.80,48.00 360.80,53.40 370.00,53.40 370.00,62.00 383.40,62.00 383.40,74.80 384.20,74.80 384.20,87.80 391.80,87.80 391.80,113.40 399.30,113.40" fill="none" stroke="#d23c44" stroke-width="1.2" stroke-linejoin="round" stroke-linecap="butt" />
<line x1="364.00" y1="52.30" x2="364.00" y2="54.50" stroke="#d23c44" stroke-width="0.8"/>
<line x1="366.00" y1="52.30" x2="366.00" y2="54.50" stroke="#d23c44" stroke-width="0.8"/>
<line x1="375.00" y1="60.90" x2="375.00" y2="63.10" stroke="#d23c44" stroke-width="0.8"/>
<line x1="378.00" y1="60.90" x2="378.00" y2="63.10" stroke="#d23c44" stroke-width="0.8"/>
<line x1="387.00" y1="86.70" x2="387.00" y2="88.90" stroke="#d23c44" stroke-width="0.8"/>
<line x1="395.00" y1="112.30" x2="395.00" y2="114.50" stroke="#d23c44" stroke-width="0.8"/>
<polyline points="356.20,34.20 357.73,34.20 357.73,35.35 359.25,35.35 359.25,36.50 360.77,36.50 360.77,37.65 362.30,37.65 362.30,38.80 363.85,38.80 363.85,39.75 365.40,39.75 365.40,40.70 366.95,40.70 366.95,41.65 368.50,41.65 368.50,42.60 370.02,42.60 370.02,43.38 371.55,43.38 371.55,44.15 373.08,44.15 373.08,44.93 374.60,44.93 374.60,45.70 376.13,45.70 376.13,46.47 377.67,46.47 377.67,47.23 379.20,47.23 379.20,48.00 380.73,48.00 380.73,48.50 382.27,48.50 382.27,49.00 383.80,49.00 383.80,49.50 384.83,49.50 384.83,50.80 385.87,50.80 385.87,52.10 386.90,52.10 386.90,53.40 388.20,53.40 388.20,54.17 389.50,54.17 389.50,54.93 390.80,54.93 390.80,55.70 391.95,55.70 391.95,57.25 393.10,57.25 393.10,58.80 394.62,58.80 394.62,58.97 396.15,58.97 396.15,59.15 397.68,59.15 397.68,59.33 399.20,59.33 399.20,59.50 400.75,59.50 400.75,60.65 402.30,60.65 402.30,61.80 403.85,61.80 403.85,62.58 405.40,62.58 405.40,63.35 406.95,63.35 406.95,64.12 408.50,64.12 408.50,64.90 410.02,64.90 410.02,65.30 411.55,65.30 411.55,65.70 413.08,65.70 413.08,66.10 414.60,66.10 414.60,66.50 420.00,66.50 420.87,66.50 420.87,67.57 421.73,67.57 421.73,68.63 422.60,68.63 422.60,69.70 423.45,69.70 423.45,71.00 424.30,71.00 424.30,72.30 425.47,72.30 425.47,72.87 426.63,72.87 426.63,73.43 427.80,73.43 427.80,74.00 429.10,74.00 429.10,74.90 430.40,74.90 430.40,75.80 431.10,75.80 431.10,76.93 431.80,76.93 431.80,78.07 432.50,78.07 432.50,79.20 446.00,79.20 446.27,79.20 446.27,80.37 446.53,80.37 446.53,81.53 446.80,81.53 446.80,82.70 460.70,82.70 460.70,88.70 496.20,88.70 496.20,105.50 503.90,105.50" fill="none" stroke="#23296b" stroke-width="1.4" stroke-linejoin="round" stroke-linecap="butt" />
<line x1="412.00" y1="64.42" x2="412.00" y2="67.22" stroke="#23296b" stroke-width="1.0"/>
<line x1="416.00" y1="65.10" x2="416.00" y2="67.90" stroke="#23296b" stroke-width="1.0"/>
<line x1="419.00" y1="65.10" x2="419.00" y2="67.90" stroke="#23296b" stroke-width="1.0"/>
<line x1="433.75" y1="77.80" x2="433.75" y2="80.60" stroke="#23296b" stroke-width="1.0"/>
<line x1="437.50" y1="77.80" x2="437.50" y2="80.60" stroke="#23296b" stroke-width="1.0"/>
<line x1="441.25" y1="77.80" x2="441.25" y2="80.60" stroke="#23296b" stroke-width="1.0"/>
<line x1="450.00" y1="81.30" x2="450.00" y2="84.10" stroke="#23296b" stroke-width="1.0"/>
<line x1="453.75" y1="81.30" x2="453.75" y2="84.10" stroke="#23296b" stroke-width="1.0"/>
<line x1="457.50" y1="81.30" x2="457.50" y2="84.10" stroke="#23296b" stroke-width="1.0"/>
<line x1="471.25" y1="87.30" x2="471.25" y2="90.10" stroke="#23296b" stroke-width="1.0"/>
<line x1="473.75" y1="87.30" x2="473.75" y2="90.10" stroke="#23296b" stroke-width="1.0"/>
<line x1="477.50" y1="87.30" x2="477.50" y2="90.10" stroke="#23296b" stroke-width="1.0"/>
<line x1="483.75" y1="87.30" x2="483.75" y2="90.10" stroke="#23296b" stroke-width="1.0"/>
<line x1="486.25" y1="87.30" x2="486.25" y2="90.10" stroke="#23296b" stroke-width="1.0"/>
<line x1="503.50" y1="104.10" x2="503.50" y2="106.90" stroke="#23296b" stroke-width="1.0"/>
<text x="454.50" y="38.88" textLength="44.75" lengthAdjust="spacingAndGlyphs" style="font-size:5.95px;font-weight:bold;fill:#2a2a2a">Normal sFLC κ/λ</text>
<text x="436.40" y="73.40" textLength="69.30" lengthAdjust="spacingAndGlyphs" style="font-size:5.7px;font-weight:bold;fill:#2a2a2a">sFLC(κ+λ)≤cut-off (n=277)</text>
<text x="396.25" y="109.20" textLength="65.25" lengthAdjust="spacingAndGlyphs" style="font-size:5.7px;font-weight:bold;fill:#2a2a2a">sFLC(κ+λ) &gt;cut-off (n=22)</text>
<text x="354.50" y="120.75" textLength="18.50" lengthAdjust="spacingAndGlyphs" style="font-size:5.7px;font-weight:bold;fill:#2a2a2a"><tspan font-style='italic'>P</tspan> =.001</text>
<text x="272.00" y="191.98" textLength="7.00" lengthAdjust="spacingAndGlyphs" style="font-size:10.5px;font-weight:bold;fill:#1a1a1a;stroke:#1a1a1a;stroke-width:0.3px;stroke-linejoin:round">E</text>
<text x="308.00" y="186.02" textLength="31.10" lengthAdjust="spacingAndGlyphs" style="font-size:4.9px;font-weight:bold;fill:#2a2a2a">N° of pts at risk</text>
<text x="308.00" y="194.91" textLength="36.00" lengthAdjust="spacingAndGlyphs" style="font-size:4.9px;font-weight:bold;fill:#2a2a2a">sFLC κ+λ ≤cut-off</text>
<text x="308.00" y="202.62" textLength="36.00" lengthAdjust="spacingAndGlyphs" style="font-size:4.9px;font-weight:bold;fill:#2a2a2a">sFLC κ+λ &gt;cut-off</text>
<text x="351.80" y="194.91" text-anchor="start" style="font-size:4.9px;font-weight:bold;fill:#2a2a2a">88</text>
<text x="389.90" y="194.91" text-anchor="start" style="font-size:4.9px;font-weight:bold;fill:#2a2a2a">33</text>
<text x="428.00" y="194.91" text-anchor="start" style="font-size:4.9px;font-weight:bold;fill:#2a2a2a">8</text>
<text x="465.40" y="194.91" text-anchor="start" style="font-size:4.9px;font-weight:bold;fill:#2a2a2a">1</text>
<text x="505.60" y="194.91" text-anchor="start" style="font-size:4.9px;font-weight:bold;fill:#2a2a2a">0</text>
<text x="351.80" y="202.62" text-anchor="start" style="font-size:4.9px;font-weight:bold;fill:#2a2a2a">62</text>
<text x="389.90" y="202.62" text-anchor="start" style="font-size:4.9px;font-weight:bold;fill:#2a2a2a">10</text>
<text x="428.00" y="202.62" text-anchor="start" style="font-size:4.9px;font-weight:bold;fill:#2a2a2a">0</text>
<text x="465.40" y="202.62" text-anchor="start" style="font-size:4.9px;font-weight:bold;fill:#2a2a2a">0</text>
<text x="505.60" y="202.62" text-anchor="start" style="font-size:4.9px;font-weight:bold;fill:#2a2a2a">0</text>
<line x1="350.60" y1="205.50" x2="514.50" y2="205.50" stroke="#9c9c9c" stroke-width="1"/>
<line x1="514.50" y1="205.50" x2="514.50" y2="322.00" stroke="#9c9c9c" stroke-width="1"/>
<line x1="350.10" y1="322.00" x2="515.00" y2="322.00" stroke="#808080" stroke-width="1"/>
<line x1="350.60" y1="205.00" x2="350.60" y2="322.50" stroke="#808080" stroke-width="1"/>
<line x1="345.60" y1="316.80" x2="350.60" y2="316.80" stroke="#808080" stroke-width="1"/>
<text x="344.60" y="319.32" text-anchor="end" style="font-size:7.0px;font-weight:bold;fill:#1a1a1a;stroke:#1a1a1a;stroke-width:0.42px;stroke-linejoin:round">0.0</text>
<line x1="345.60" y1="295.70" x2="350.60" y2="295.70" stroke="#808080" stroke-width="1"/>
<text x="344.60" y="298.22" text-anchor="end" style="font-size:7.0px;font-weight:bold;fill:#1a1a1a;stroke:#1a1a1a;stroke-width:0.42px;stroke-linejoin:round">0.2</text>
<line x1="345.60" y1="274.60" x2="350.60" y2="274.60" stroke="#808080" stroke-width="1"/>
<text x="344.60" y="277.12" text-anchor="end" style="font-size:7.0px;font-weight:bold;fill:#1a1a1a;stroke:#1a1a1a;stroke-width:0.42px;stroke-linejoin:round">0.4</text>
<line x1="345.60" y1="253.50" x2="350.60" y2="253.50" stroke="#808080" stroke-width="1"/>
<text x="344.60" y="256.02" text-anchor="end" style="font-size:7.0px;font-weight:bold;fill:#1a1a1a;stroke:#1a1a1a;stroke-width:0.42px;stroke-linejoin:round">0.6</text>
<line x1="345.60" y1="232.40" x2="350.60" y2="232.40" stroke="#808080" stroke-width="1"/>
<text x="344.60" y="234.92" text-anchor="end" style="font-size:7.0px;font-weight:bold;fill:#1a1a1a;stroke:#1a1a1a;stroke-width:0.42px;stroke-linejoin:round">0.8</text>
<line x1="345.60" y1="211.30" x2="350.60" y2="211.30" stroke="#808080" stroke-width="1"/>
<text x="344.60" y="213.82" text-anchor="end" style="font-size:7.0px;font-weight:bold;fill:#1a1a1a;stroke:#1a1a1a;stroke-width:0.42px;stroke-linejoin:round">1.0</text>
<line x1="358.30" y1="322.00" x2="358.30" y2="327.00" stroke="#808080" stroke-width="1"/>
<text x="358.30" y="335.02" text-anchor="middle" style="font-size:7.0px;font-weight:bold;fill:#1a1a1a;stroke:#1a1a1a;stroke-width:0.42px;stroke-linejoin:round">0</text>
<line x1="395.30" y1="322.00" x2="395.30" y2="327.00" stroke="#808080" stroke-width="1"/>
<text x="395.30" y="335.02" text-anchor="middle" style="font-size:7.0px;font-weight:bold;fill:#1a1a1a;stroke:#1a1a1a;stroke-width:0.42px;stroke-linejoin:round">5</text>
<line x1="432.30" y1="322.00" x2="432.30" y2="327.00" stroke="#808080" stroke-width="1"/>
<text x="432.30" y="335.02" text-anchor="middle" style="font-size:7.0px;font-weight:bold;fill:#1a1a1a;stroke:#1a1a1a;stroke-width:0.42px;stroke-linejoin:round">10</text>
<line x1="469.30" y1="322.00" x2="469.30" y2="327.00" stroke="#808080" stroke-width="1"/>
<text x="469.30" y="335.02" text-anchor="middle" style="font-size:7.0px;font-weight:bold;fill:#1a1a1a;stroke:#1a1a1a;stroke-width:0.42px;stroke-linejoin:round">15</text>
<line x1="506.30" y1="322.00" x2="506.30" y2="327.00" stroke="#808080" stroke-width="1"/>
<text x="506.30" y="335.02" text-anchor="middle" style="font-size:7.0px;font-weight:bold;fill:#1a1a1a;stroke:#1a1a1a;stroke-width:0.42px;stroke-linejoin:round">20</text>
<text transform="translate(330.46,264.38) rotate(-90)" x="0" y="0" text-anchor="middle" textLength="86.25" lengthAdjust="spacingAndGlyphs" style="font-size:8.2px;font-weight:bold;fill:#1a1a1a;stroke:#1a1a1a;stroke-width:0.49px;stroke-linejoin:round">proportion not treated</text>
<text x="406.90" y="346.87" textLength="51.90" lengthAdjust="spacingAndGlyphs" style="font-size:8.2px;font-weight:bold;fill:#1a1a1a;stroke:#1a1a1a;stroke-width:0.49px;stroke-linejoin:round">Times (years)</text>
<polyline points="359.20,211.20 359.20,218.80 359.73,218.80 359.73,220.37 360.27,220.37 360.27,221.93 360.80,221.93 360.80,223.50 361.80,223.50 361.80,225.03 362.80,225.03 362.80,226.57 363.80,226.57 363.80,228.10 364.12,228.10 364.12,229.64 364.44,229.64 364.44,231.18 364.76,231.18 364.76,232.72 365.08,232.72 365.08,234.26 365.40,234.26 365.40,235.80 365.97,235.80 365.97,237.33 366.55,237.33 366.55,238.85 367.12,238.85 367.12,240.38 367.70,240.38 367.70,241.90 368.85,241.90 368.85,243.25 370.00,243.25 370.00,244.60 371.15,244.60 371.15,245.95 372.30,245.95 372.30,247.30 373.07,247.30 373.07,248.60 373.83,248.60 373.83,249.90 374.60,249.90 374.60,251.20 374.87,251.20 374.87,252.73 375.13,252.73 375.13,254.27 375.40,254.27 375.40,255.80 375.67,255.80 375.67,257.33 375.93,257.33 375.93,258.87 376.20,258.87 376.20,260.40 376.57,260.40 376.57,261.60 376.95,261.60 376.95,262.80 377.32,262.80 377.32,264.00 377.70,264.00 377.70,265.20 378.74,265.20 378.74,266.58 379.78,266.58 379.78,267.96 380.82,267.96 380.82,269.34 381.86,269.34 381.86,270.72 382.90,270.72 382.90,272.10 384.33,272.10 384.33,272.23 385.77,272.23 385.77,272.37 387.20,272.37 387.20,272.50 387.37,272.50 387.37,273.89 387.54,273.89 387.54,275.27 387.71,275.27 387.71,276.66 387.89,276.66 387.89,278.04 388.06,278.04 388.06,279.43 388.23,279.43 388.23,280.81 388.40,280.81 388.40,282.20 389.73,282.20 389.73,282.60 391.07,282.60 391.07,283.00 392.40,283.00 392.40,283.40 393.27,283.40 393.27,284.90 394.15,284.90 394.15,286.40 395.02,286.40 395.02,287.90 395.90,287.90 395.90,289.40 396.97,289.40 396.97,290.92 398.05,290.92 398.05,292.45 399.12,292.45 399.12,293.98 400.20,293.98 400.20,295.50 401.50,295.50 401.50,296.35 402.80,296.35 402.80,297.20 404.10,297.20 404.10,298.05 405.40,298.05 405.40,298.90 406.70,298.90 406.70,300.20 408.00,300.20 408.00,301.50 408.27,301.50 408.27,303.07 408.53,303.07 408.53,304.63 408.80,304.63 408.80,306.20 423.60,306.20 423.60,311.60 432.20,311.60 432.20,316.20" fill="none" stroke="#d23c44" stroke-width="1.2" stroke-linejoin="round" stroke-linecap="butt" />
<line x1="370.00" y1="243.50" x2="370.00" y2="245.70" stroke="#d23c44" stroke-width="0.8"/>
<line x1="380.00" y1="267.15" x2="380.00" y2="269.35" stroke="#d23c44" stroke-width="0.8"/>
<line x1="386.00" y1="271.29" x2="386.00" y2="273.49" stroke="#d23c44" stroke-width="0.8"/>
<line x1="394.00" y1="285.04" x2="394.00" y2="287.24" stroke="#d23c44" stroke-width="0.8"/>
<line x1="398.00" y1="291.28" x2="398.00" y2="293.48" stroke="#d23c44" stroke-width="0.8"/>
<line x1="403.00" y1="296.23" x2="403.00" y2="298.43" stroke="#d23c44" stroke-width="0.8"/>
<line x1="407.00" y1="299.40" x2="407.00" y2="301.60" stroke="#d23c44" stroke-width="0.8"/>
<line x1="415.00" y1="305.10" x2="415.00" y2="307.30" stroke="#d23c44" stroke-width="0.8"/>
<line x1="428.00" y1="310.50" x2="428.00" y2="312.70" stroke="#d23c44" stroke-width="0.8"/>
<polyline points="359.20,211.20 360.35,211.20 360.35,211.55 361.50,211.55 361.50,211.90 362.80,211.90 362.80,213.20 364.10,213.20 364.10,214.50 365.40,214.50 365.40,215.80 366.17,215.80 366.17,217.33 366.95,217.33 366.95,218.85 367.73,218.85 367.73,220.38 368.50,220.38 368.50,221.90 369.65,221.90 369.65,223.45 370.80,223.45 370.80,225.00 371.95,225.00 371.95,226.55 373.10,226.55 373.10,228.10 374.63,228.10 374.63,228.60 376.17,228.60 376.17,229.10 377.70,229.10 377.70,229.60 378.73,229.60 378.73,230.90 379.77,230.90 379.77,232.20 380.80,232.20 380.80,233.50 382.30,233.50 382.30,235.00 383.80,235.00 383.80,236.50 384.07,236.50 384.07,237.92 384.33,237.92 384.33,239.33 384.60,239.33 384.60,240.75 384.87,240.75 384.87,242.17 385.13,242.17 385.13,243.58 385.40,243.58 385.40,245.00 386.93,245.00 386.93,245.50 388.47,245.50 388.47,246.00 390.00,246.00 390.00,246.50 391.15,246.50 391.15,248.05 392.30,248.05 392.30,249.60 393.65,249.60 393.65,249.80 395.00,249.80 395.00,250.00 396.35,250.00 396.35,250.20 397.70,250.20 397.70,250.40 398.73,250.40 398.73,251.67 399.77,251.67 399.77,252.93 400.80,252.93 400.80,254.20 401.80,254.20 401.80,255.50 402.80,255.50 402.80,256.80 403.80,256.80 403.80,258.10 405.10,258.10 405.10,258.33 406.40,258.33 406.40,258.57 407.70,258.57 407.70,258.80 408.23,258.80 408.23,259.65 408.75,259.65 408.75,260.50 451.25,260.50 451.25,274.50 488.75,274.50" fill="none" stroke="#23296b" stroke-width="1.5" stroke-linejoin="round" stroke-linecap="butt" />
<line x1="375.00" y1="227.32" x2="375.00" y2="230.12" stroke="#23296b" stroke-width="1.0"/>
<line x1="382.00" y1="233.30" x2="382.00" y2="236.10" stroke="#23296b" stroke-width="1.0"/>
<line x1="395.00" y1="248.60" x2="395.00" y2="251.40" stroke="#23296b" stroke-width="1.0"/>
<line x1="405.00" y1="256.92" x2="405.00" y2="259.72" stroke="#23296b" stroke-width="1.0"/>
<line x1="412.50" y1="259.10" x2="412.50" y2="261.90" stroke="#23296b" stroke-width="1.0"/>
<line x1="420.00" y1="259.10" x2="420.00" y2="261.90" stroke="#23296b" stroke-width="1.0"/>
<line x1="422.50" y1="259.10" x2="422.50" y2="261.90" stroke="#23296b" stroke-width="1.0"/>
<line x1="430.00" y1="259.10" x2="430.00" y2="261.90" stroke="#23296b" stroke-width="1.0"/>
<line x1="433.75" y1="259.10" x2="433.75" y2="261.90" stroke="#23296b" stroke-width="1.0"/>
<line x1="436.25" y1="259.10" x2="436.25" y2="261.90" stroke="#23296b" stroke-width="1.0"/>
<line x1="453.75" y1="273.10" x2="453.75" y2="275.90" stroke="#23296b" stroke-width="1.0"/>
<line x1="483.75" y1="273.10" x2="483.75" y2="275.90" stroke="#23296b" stroke-width="1.0"/>
<line x1="488.50" y1="273.10" x2="488.50" y2="275.90" stroke="#23296b" stroke-width="1.0"/>
<text x="453.75" y="217.78" textLength="50.00" lengthAdjust="spacingAndGlyphs" style="font-size:5.95px;font-weight:bold;fill:#2a2a2a">Abnormal sFLC κ/λ</text>
<text x="412.50" y="255.25" textLength="65.00" lengthAdjust="spacingAndGlyphs" style="font-size:5.7px;font-weight:bold;fill:#2a2a2a">sFLC(κ+λ)≤cut-off (n=88)</text>
<text x="427.70" y="307.69" textLength="65.80" lengthAdjust="spacingAndGlyphs" style="font-size:5.7px;font-weight:bold;fill:#2a2a2a">sFLC(κ+λ) &gt;cut-off (n=62)</text>
<text x="360.00" y="299.00" textLength="22.00" lengthAdjust="spacingAndGlyphs" style="font-size:5.7px;font-weight:bold;fill:#2a2a2a"><tspan font-style='italic'>P</tspan> &lt;.0001</text>
</svg>
</body></html>
